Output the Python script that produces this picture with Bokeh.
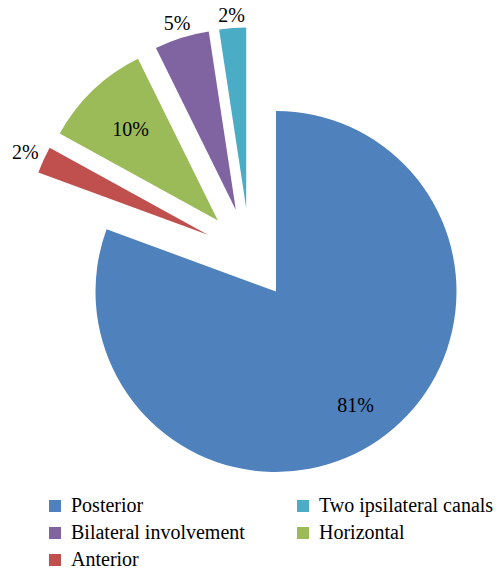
import math
from bokeh.plotting import figure
from bokeh.models import Range1d, ColumnDataSource, Legend, LegendItem
from bokeh.core.properties import value
from bokeh.embed import file_html
from bokeh.resources import INLINE

# ---- data ----
categories = ["Posterior", "Anterior", "Horizontal", "Bilateral involvement", "Two ipsilateral canals"]
percent = [80.6, 2.4, 9.7, 4.9, 2.4]
colors = ["#4F81BD", "#C0504D", "#9BBB59", "#8064A2", "#4BACC6"]
legend_col1 = ["Posterior", "Bilateral involvement", "Anterior"]
legend_col2 = ["Two ipsilateral canals", "Horizontal"]

# ---- layout / style ----
W, H = 504, 571
LEFT, TOP = 0, 0             # image coords of canvas top-left
CX, CY = 275.5, 291.0        # pie centre (image coords)
R = 180.5
EXPLODE = [0, 1, 1, 1, 1]
D = 46
LABEL_FRAC = [0.77, None, 0.70, None, None]   # None -> label outside
FONT = "Liberation Serif"
FS = "20px"

total = sum(percent)
angles = []
a = math.pi / 2
for v in percent:
    sweep = v / total * 2 * math.pi
    angles.append((a, a - sweep))
    a -= sweep
ex = [i for i, e in enumerate(EXPLODE) if e]
g_mid = (angles[ex[0]][0] + angles[ex[-1]][1]) / 2

xs, ys, st, en, lx, ly, lab = [], [], [], [], [], [], []
for i, (a0, a1) in enumerate(angles):
    mid = (a0 + a1) / 2
    if EXPLODE[i]:
        ox = D * (math.cos(g_mid) + math.cos(mid))
        oy = D * (math.sin(g_mid) + math.sin(mid))
    else:
        ox = oy = 0.0
    xs.append(ox); ys.append(oy); st.append(a1); en.append(a0)
    if LABEL_FRAC[i] is not None:
        r = LABEL_FRAC[i] * R
    else:
        r = R + 4 + 14 * abs(math.cos(mid)) + 8 * abs(math.sin(mid))
    lx.append(ox + r * math.cos(mid))
    ly.append(oy + r * math.sin(mid))
    lab.append(f"{round(percent[i])}%")

src = ColumnDataSource(dict(x=xs, y=ys, start=st, end=en, color=colors,
                            name=categories, lx=lx, ly=ly, lab=lab))

p = figure(width=W, height=H, output_backend="svg", toolbar_location=None,
           x_range=Range1d(LEFT - CX, LEFT + W - CX),
           y_range=Range1d(CY - (TOP + H), CY - TOP),
           x_axis_location=None, y_axis_location=None, min_border=0)
p.grid.visible = False
p.outline_line_color = None
p.background_fill_color = "white"
p.border_fill_color = "white"

r = p.wedge(x="x", y="y", radius=R, start_angle="start", end_angle="end",
            direction="anticlock", fill_color="color", line_color=None, source=src)

p.text(x="lx", y="ly", text="lab", source=src, text_align="center",
       text_baseline="middle", text_font=value(FONT), text_font_size=FS,
       text_color="#000000")

common = dict(padding=0, margin=0, spacing=4, label_height=22, glyph_height=15,
              glyph_width=15, label_standoff=9, border_line_color=None,
              background_fill_alpha=0, label_text_font=FONT,
              label_text_font_size=FS, label_text_color="#000000")

leg1 = Legend(items=[LegendItem(label=n, renderers=[r], index=categories.index(n))
                     for n in legend_col1], location=(47, 0), **common)
leg2 = Legend(items=[LegendItem(label=n, renderers=[r], index=categories.index(n))
                     for n in legend_col2], location=(295, 27), **common)
p.add_layout(leg1)
p.add_layout(leg2)

open("out.html", "w").write(file_html(p, INLINE))
